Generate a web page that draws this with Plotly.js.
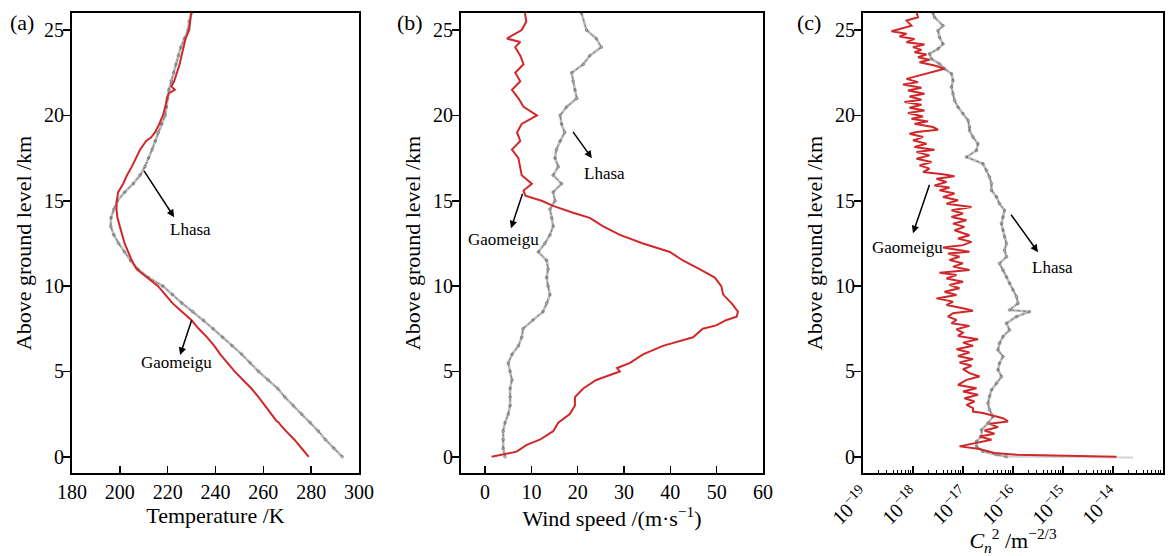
<!DOCTYPE html>
<html>
<head>
<meta charset="utf-8">
<script src="https://cdn.plot.ly/plotly-3.0.1.min.js"></script>
<style>html,body{margin:0;padding:0;background:#fff;}#chart{width:1168px;height:556px;}</style>
</head>
<body>
<div id="chart"></div>
<script>
// ---------- Panel (a): temperature (K) ----------
const H_A_GAOMEIGU = [26,25.5,25,24.5,24,23.5,23,22.5,22,21.7,21.5,21.3,21,20.5,20,19.5,19,18.7,18.5,18,17.5,17,16.5,16,15.5,15,14.5,14,13.5,13,12.5,12,11.5,11,10.5,10,9.5,9,8.5,8,7.5,7,6.5,6,5.5,5,4.5,4,3.5,3,2.5,2.1,2.0,1.9,1.5,1,0.5,0];
const T_GAOMEIGU = [229.8,229.5,229,227.5,226.5,225.8,225,224,222.7,221.5,223,220.5,219.7,219,218,216.5,214.7,213,211,208.5,206.8,205,203,201.4,199.3,198.7,198.6,199,200,201,202,203.5,205,207,211.5,216,219,222,226,230,233,236.5,239.5,242,245,248,251.5,255,258,260.7,263.5,265.5,266.5,267,269.5,273,276,279];
const H_A_LHASA = [26,25.5,25,24.5,24,23.5,23,22.5,22,21.5,21,20.5,20,19.5,19,18.5,18,17.5,17,16.5,16,15.5,15,14.5,14,13.5,13,12.5,12,11.5,11,10.5,10,9.5,9,8.5,8,7.5,7,6.5,6,5.5,5,4.5,4,3.5,3,2.5,2,1.5,1,0.5,0];
const T_LHASA = [230,229,228.5,227,225.5,224.5,223.5,222.5,221.5,220.5,220,219.5,219,217.5,216,214.8,213.5,212,210.5,208.5,205.6,202,199,197.5,196.3,196.2,197.5,199.5,202,204.5,207.5,212,218,222,226,230.5,235,239,243,247,251,254.5,258,262,266,269,272.5,276,279.6,283,286,289.5,293];

// ---------- Panel (b): wind speed (m/s) ----------
const H_B_GAOMEIGU = [26,25.5,25,24.5,24.3,24,23.5,23,22.5,22,21.5,21,20.5,20,19.5,19,18.5,18,17.5,17,16.5,16,15.6,15.3,15,14.7,14.5,14.3,14,13.5,13,12.5,12,11.5,11,10.5,10,9.5,9,8.5,8.2,8,7.7,7.5,7,6.5,6,5.5,5.2,5,4.5,4,3.5,3,2.5,2,1.5,1,0.7,0.3,0];
const W_GAOMEIGU = [8.6,8.9,7.9,4.7,7.6,6.5,7.6,8.3,6.5,7.6,5.8,7.2,8.3,11.2,7.9,6.9,7.6,5.8,7.2,7.6,7.9,10.1,8.3,8.7,12.2,14.7,16.8,19,22.6,25.5,29.1,34.1,39.9,42.7,46.3,49.6,51,51.4,53.2,54.6,54.3,52,49.9,47,44.9,38.4,34.1,31.3,28.5,29.1,24,21.2,19.4,19.4,18.3,15.8,14.7,11.8,9,6.8,1.4];
const H_B_LHASA = [26,25,24.5,24,23.5,23,22.5,22,21.5,21,20.5,20,19.5,19,18.5,18,17.5,17,16.5,16,15.5,15,14.5,14,13.5,13,12.5,12,11.5,11,10.5,10,9.5,9,8.5,8,7.5,7,6.5,6,5.5,5,4.5,4,3.5,3,2.5,2,1.5,1,0.5,0];
const W_LHASA = [20.8,21.9,24,25.1,22.6,21.2,18.7,19,19.4,19.8,17.6,16.2,16.5,17.2,16.2,15.4,15.1,15.8,14.7,16.5,14.7,15.1,14,14.4,14.7,14,12.9,11.5,13.3,13.6,13.3,13.6,14,13.3,12.5,10.3,8.2,7.9,7.2,5.8,5,5.4,5.8,5.4,5.4,5.4,5,4.3,3.9,3.9,3.9,4.3];

// ---------- Panel (c): Cn2, stored as log10 exponents ----------
const H_C_GAOMEIGU = [26.05,25.75,25.56,25.26,24.93,24.78,24.62,24.48,24.29,24.15,24.00,23.84,23.70,23.57,23.41,23.26,23.12,22.92,22.73,22.53,22.34,22.14,21.95,21.81,21.62,21.46,21.27,21.11,20.92,20.78,20.62,20.45,20.29,20.14,19.94,19.81,19.65,19.51,19.32,19.16,19.03,
18.93,18.73,18.54,18.34,18.15,17.99,17.85,17.66,17.46,17.27,17.07,16.88,16.68,16.55,16.43,16.29,16.10,15.90,15.77,15.61,15.42,15.22,15.03,14.83,14.64,14.44,14.25,14.05,13.86,13.66,13.47,13.27,12.98,12.79,12.59,12.40,12.26,12.01,
11.91,11.72,11.53,11.33,11.14,10.94,10.78,10.65,10.45,10.26,10.06,9.87,9.67,9.48,9.28,9.09,8.89,8.70,8.56,8.41,8.21,8.02,7.82,7.67,7.47,7.28,7.08,6.89,6.69,6.50,6.30,6.11,5.91,5.72,5.52,5.33,5.13,
4.90,4.70,4.51,4.21,4.02,3.82,3.63,3.43,3.24,3.04,2.85,2.65,2.56,2.46,2.26,2.07,1.93,1.74,1.54,1.35,1.19,1.00,0.80,0.61,0.45,0.32,0.22,0.12,0.06,0.0];
const LOGCN2_GAOMEIGU = [-17.93,-17.90,-18.13,-18.03,-18.43,-18.13,-18.27,-17.97,-18.13,-17.77,-18.00,-17.83,-17.97,-17.73,-17.90,-17.67,-17.87,-17.57,-17.37,-17.63,-17.83,-18.13,-17.90,-18.20,-17.83,-18.10,-17.77,-18.07,-17.83,-18.17,-17.83,-18.07,-17.77,-18.10,-17.80,-18.03,-17.70,-17.97,-17.60,-17.50,-17.93,
-18.07,-17.80,-18.00,-17.73,-17.97,-17.57,-17.93,-17.67,-17.93,-17.63,-17.87,-17.67,-17.80,-17.40,-17.17,-17.53,-17.33,-17.57,-17.27,-17.47,-17.17,-17.40,-17.10,-17.33,-16.83,-17.23,-17.00,-17.23,-16.93,-17.20,-16.97,-17.17,-16.87,-17.10,-16.83,-17.00,-17.40,-16.87,
-17.30,-17.07,-17.27,-17.00,-17.20,-16.87,-17.47,-17.13,-17.33,-17.00,-17.27,-17.07,-17.37,-17.13,-17.53,-17.20,-17.33,-17.00,-16.80,-17.20,-17.30,-17.13,-17.23,-16.87,-17.13,-17.00,-17.10,-16.70,-17.00,-16.80,-17.13,-16.87,-17.10,-16.80,-17.07,-16.83,-17.00,
-16.87,-16.67,-16.93,-17.10,-16.73,-17.00,-16.70,-16.97,-16.77,-16.93,-16.80,-16.80,-16.60,-16.47,-16.20,-16.10,-16.47,-16.30,-16.57,-16.37,-16.67,-16.43,-16.80,-17.07,-16.67,-16.47,-16.37,-15.93,-15.0,-13.93];
const H_C_LHASA = [26.0,25.75,25.26,24.97,24.58,24.19,23.90,23.61,23.31,23.02,22.73,22.44,22.05,21.66,21.27,20.88,20.49,20.10,19.71,19.32,
19.12,18.73,18.34,17.95,17.56,17.17,16.78,16.39,16.00,15.61,15.22,14.83,14.44,14.05,13.66,13.27,12.88,12.49,12.10,
11.72,11.33,10.94,10.55,10.16,9.77,9.38,8.99,8.60,8.5,8.21,7.82,7.43,7.04,6.65,6.26,5.87,5.48,5.09,
4.70,4.31,3.92,3.53,3.14,2.75,2.36,1.97,1.58,1.19,0.90,0.61,0.32,0.12,0.0];
const LOGCN2_LHASA = [-17.60,-17.57,-17.40,-17.50,-17.47,-17.40,-17.50,-17.67,-17.63,-17.47,-17.37,-17.23,-17.20,-17.23,-17.20,-17.17,-17.10,-17.00,-16.90,-16.87,
-16.87,-16.80,-16.70,-16.73,-16.93,-16.60,-16.53,-16.47,-16.43,-16.43,-16.33,-16.27,-16.17,-16.20,-16.23,-16.20,-16.17,-16.13,-16.17,
-16.13,-16.27,-16.20,-16.13,-16.07,-16.00,-15.93,-15.90,-16.07,-15.67,-15.93,-16.13,-16.07,-16.20,-16.27,-16.30,-16.20,-16.27,-16.30,
-16.23,-16.33,-16.43,-16.47,-16.50,-16.47,-16.40,-16.50,-16.63,-16.63,-16.73,-16.73,-16.60,-16.33,-16.13];
// faint ground-level tail of the Lhasa Cn2 profile
const H_C_LHASA_TAIL = [0.0,-0.02,-0.04];
const LOGCN2_LHASA_TAIL = [-16.13,-15.30,-13.60];

const X_TICKS_A = [180,200,220,240,260,280,300];
const X_TICKS_B = [0,10,20,30,40,50,60];
const X_EXP_C = [-19,-18,-17,-16,-15,-14,-13];
const Y_TICKS = [0,5,10,15,20,25];

const RED = '#d0282a';
const FONT = 'Liberation Serif, Times New Roman, serif';

function grayTraces(x, y, xa, ya) {
  return [
    {x: x, y: y, xaxis: xa, yaxis: ya, mode: 'lines', line: {color: '#bdbdbd', width: 2.6}, hoverinfo: 'skip', showlegend: false},
    {x: x, y: y, xaxis: xa, yaxis: ya, mode: 'lines+markers', line: {color: '#606060', width: 0.7, dash: 'dot'},
     marker: {symbol: 'circle-open', size: 2.6, color: '#666', line: {width: 0.7}}, showlegend: false}
  ];
}

const cG = LOGCN2_GAOMEIGU.map(v => Math.pow(10, v));
const cL = LOGCN2_LHASA.map(v => Math.pow(10, v));
const cLT = LOGCN2_LHASA_TAIL.map(v => Math.pow(10, v));

const data = [
  ...grayTraces(T_LHASA, H_A_LHASA, 'x', 'y'),
  {x: T_GAOMEIGU, y: H_A_GAOMEIGU, xaxis: 'x', yaxis: 'y', mode: 'lines', line: {color: RED, width: 2}, showlegend: false},
  ...grayTraces(W_LHASA, H_B_LHASA, 'x2', 'y2'),
  {x: W_GAOMEIGU, y: H_B_GAOMEIGU, xaxis: 'x2', yaxis: 'y2', mode: 'lines', line: {color: RED, width: 2}, showlegend: false},
  {x: cLT, y: H_C_LHASA_TAIL, xaxis: 'x3', yaxis: 'y3', mode: 'lines', line: {color: '#d4d4d4', width: 2}, showlegend: false},
  ...grayTraces(cL, H_C_LHASA, 'x3', 'y3'),
  {x: cG, y: H_C_GAOMEIGU, xaxis: 'x3', yaxis: 'y3', mode: 'lines', line: {color: RED, width: 2}, showlegend: false}
];

const W = 1168;
const axCommon = {showline: true, mirror: true, linecolor: '#000', linewidth: 2, showgrid: false, zeroline: false,
  tickcolor: '#000', tickwidth: 1.5, tickfont: {size: 20, family: FONT, color: '#000'}};
const yCommon = Object.assign({}, axCommon, {range: [-0.95, 26], tickvals: Y_TICKS, ticks: 'outside', ticklen: 7,
  ticklabelstandoff: -5,
  title: {text: 'Above ground level /km', font: {size: 22, family: FONT}, standoff: 6}, domain: [0, 1]});

const minorC = [];
for (let e = -19; e < -13; e++) for (let m = 2; m <= 9; m++) minorC.push(m * Math.pow(10, e));

const lbl = (x, t) => ({xref: 'paper', yref: 'paper', x: x/W, y: (473-23)/460, xanchor: 'center', yanchor: 'middle',
  text: t, showarrow: false, font: {size: 22, family: FONT}});
const arrow = (xr, yr, x, y, ax, ay) => ({xref: xr, yref: yr, axref: xr, ayref: yr, x: x, y: y, ax: ax, ay: ay, text: '',
  showarrow: true, arrowhead: 2, arrowsize: 1, arrowwidth: 1.5, arrowcolor: '#000'});
const note = (xr, yr, x, y, t) => ({xref: xr, yref: yr, x: x, y: y, xanchor: 'center', yanchor: 'middle', text: t,
  showarrow: false, font: {size: 17, family: FONT}});

const layout = {
  width: 1168, height: 556,
  margin: {l: 0, r: 0, t: 13, b: 83},
  paper_bgcolor: '#fff', plot_bgcolor: '#fff',
  font: {family: FONT, color: '#000'},
  showlegend: false,
  xaxis: Object.assign({}, axCommon, {domain: [72/W, 359/W], range: [180, 300], tickvals: X_TICKS_A, ticks: 'inside', ticklen: 7, anchor: 'y',
    title: {text: 'Temperature /K', font: {size: 22, family: FONT}, standoff: 2}}),
  yaxis: Object.assign({}, yCommon, {anchor: 'x'}),
  xaxis2: Object.assign({}, axCommon, {domain: [461/W, 763/W], range: [-5.2, 60], tickvals: X_TICKS_B, ticks: 'inside', ticklen: 7, anchor: 'y2',
    title: {text: 'Wind speed /(m·s<sup>−1</sup>)', font: {size: 22, family: FONT}, standoff: 2}}),
  yaxis2: Object.assign({}, yCommon, {anchor: 'x2'}),
  xaxis3: Object.assign({}, axCommon, {domain: [863/W, 1163/W], type: 'log', range: [-19, -13],
    tickvals: X_EXP_C.map(e => Math.pow(10, e)), ticktext: X_EXP_C.map(e => '10<sup>−' + (-e) + '</sup>'),
    tickangle: -45, ticks: 'inside', ticklen: 7, anchor: 'y3',
    minor: {tickvals: minorC, ticks: 'inside', ticklen: 3, tickcolor: '#000', tickwidth: 1, showgrid: false},
    title: {text: '<i>C</i><sub><i>n</i></sub><sup>2</sup> /m<sup>−2/3</sup>', font: {size: 22, family: FONT}, standoff: 2}}),
  yaxis3: Object.assign({}, yCommon, {anchor: 'x3'}),
  annotations: [
    lbl(22, '(a)'), lbl(410, '(b)'), lbl(809, '(c)'),
    // panel a
    arrow('x', 'y', 222.7, 14.04, 209.7, 16.84), note('x', 'y', 229.4, 13.33, 'Lhasa'),
    arrow('x', 'y', 225.2, 5.96, 230.2, 8.07), note('x', 'y', 223.5, 5.5, 'Gaomeigu'),
    // panel b
    arrow('x2', 'y2', 23.06, 17.49, 18.75, 19.12), note('x2', 'y2', 25.86, 16.6, 'Lhasa'),
    arrow('x2', 'y2', 5.6, 13.39, 8.19, 15.5), note('x2', 'y2', 3.88, 12.75, 'Gaomeigu'),
    // panel c (x in log10 units)
    arrow('x3', 'y3', -18.0, 13.1, -17.66, 16.02), note('x3', 'y3', -18.12, 12.28, 'Gaomeigu'),
    arrow('x3', 'y3', -15.5, 11.99, -16.06, 14.27), note('x3', 'y3', -15.22, 11.11, 'Lhasa')
  ]
};

Plotly.newPlot('chart', data, layout, {displayModeBar: false, staticPlot: true});
</script>
</body>
</html>
